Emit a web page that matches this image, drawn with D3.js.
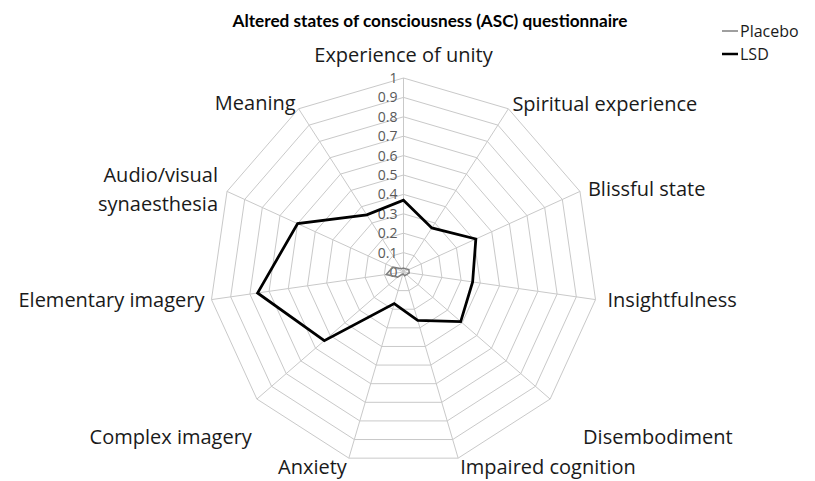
<!DOCTYPE html>
<html><head><meta charset="utf-8">
<script src="https://cdn.jsdelivr.net/npm/d3@7"></script>
<style>body{margin:0;background:#fff}svg{display:block}</style>
</head><body>
<svg id="c" width="815" height="481"></svg>
<script>
const categories = ["Experience of unity","Spiritual experience","Blissful state","Insightfulness","Disembodiment","Impaired cognition","Anxiety","Complex imagery","Elementary imagery","Audio/visual synaesthesia","Meaning"];
const placebo = [0.02,0.02,0.03,0.03,0.02,0.02,0.01,0.04,0.09,0.06,0.02];
const lsd = [0.37,0.27,0.41,0.36,0.39,0.26,0.17,0.54,0.76,0.60,0.35];
const tickLabels = ["0","0.1","0.2","0.3","0.4","0.5","0.6","0.7","0.8","0.9","1"];
const tickValues = [0,0.1,0.2,0.3,0.4,0.5,0.6,0.7,0.8,0.9,1];

const svg = d3.select("#c");
const cx = 403.5, cy = 272, R = 194;
const FONT = "'Open Sans', Lato, sans-serif";
const r = d3.scaleLinear().domain([0,1]).range([0,R]);
const n = categories.length;
const ang = d3.scaleLinear().domain([0,n]).range([0,2*Math.PI]);
const pt = (i,v) => [cx + r(v)*Math.sin(ang(i)), cy - r(v)*Math.cos(ang(i))];

const g = svg.append("g");
// rings
tickValues.slice(1).forEach(t => {
  g.append("polygon")
    .attr("points", d3.range(n).map(i => pt(i,t).join(",")).join(" "))
    .attr("fill","none").attr("stroke","#c9c9c9").attr("stroke-width",1);
});
// spokes
d3.range(n).forEach(i => {
  const [x,y] = pt(i,1);
  g.append("line").attr("x1",cx).attr("y1",cy).attr("x2",x).attr("y2",y)
    .attr("stroke","#c9c9c9").attr("stroke-width",1);
});
// tick labels
tickValues.forEach((t,k) => {
  g.append("text").attr("x",cx-6).attr("y",cy - r(t)).attr("dy","0.35em")
    .attr("text-anchor","end").attr("font-family",FONT).attr("font-size",14)
    .attr("fill","#595959").text(tickLabels[k]);
});
// series
const line = d3.line().curve(d3.curveLinearClosed);
g.append("path").attr("d", line(placebo.map((v,i)=>pt(i,v))))
  .attr("fill","none").attr("stroke","#7f7f7f").attr("stroke-width",1.5);
g.append("path").attr("d", line(lsd.map((v,i)=>pt(i,v))))
  .attr("fill","none").attr("stroke","#000").attr("stroke-width",2.75).attr("stroke-linejoin","miter");

// category labels
const fs = 20;
const lab = [
  {dx:0, dy:-23, a:"middle"},
  {dx:4, dy:-5, a:"start"},
  {dx:8, dy:-2, a:"start"},
  {dx:12, dy:0, a:"start"},
  {dx:33, dy:38, a:"start"},
  {dx:2, dy:9, a:"start"},
  {dx:-2, dy:9, a:"end"},
  {dx:-5, dy:38, a:"end"},
  {dx:-7, dy:0, a:"end"},
  {dx:-9, dy:-16, a:"end"},
  {dx:-3, dy:-6, a:"end"}
];
categories.forEach((c,i) => {
  const [x,y] = pt(i,1);
  const L = lab[i];
  const t = g.append("text").attr("x",x+L.dx).attr("y",y+L.dy).attr("dy","0.35em")
    .attr("text-anchor",L.a).attr("font-family",FONT).attr("font-size",fs).attr("fill","#1a1a1a");
  if (c.indexOf("/")>0 && c.indexOf(" ")>0) {
    const parts = c.split(" ");
    t.append("tspan").attr("x",x+L.dx).text(parts[0]);
    t.append("tspan").attr("x",x+L.dx).attr("dy","1.45em").text(parts[1]);
  } else t.text(c);
});

// title
svg.append("text").attr("x",430).attr("y",27).attr("text-anchor","middle")
  .attr("font-family","Lato, sans-serif").attr("font-weight","bold").attr("font-size",17.2)
  .attr("fill","#000").text("Altered states of consciousness (ASC) questionnaire");

// legend
const leg = [{name:"Placebo", c:"#7f7f7f", w:1.5, y:31},{name:"LSD", c:"#000", w:2.5, y:54}];
leg.forEach(d => {
  svg.append("line").attr("x1",722).attr("x2",738).attr("y1",d.y).attr("y2",d.y)
    .attr("stroke",d.c).attr("stroke-width",d.w);
  svg.append("text").attr("x",740).attr("y",d.y).attr("dy","0.35em")
    .attr("font-family",FONT).attr("font-size",16).attr("fill","#1a1a1a").text(d.name);
});
</script>
</body></html>
